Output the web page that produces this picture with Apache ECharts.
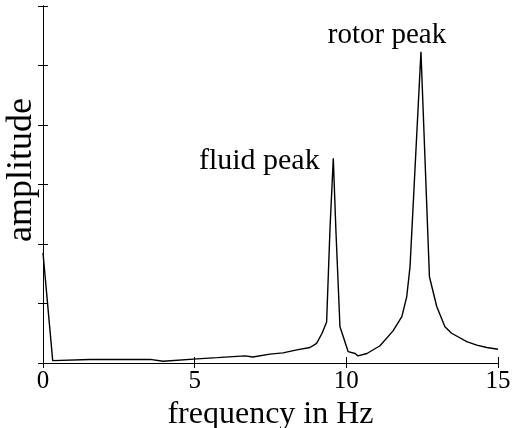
<!DOCTYPE html>
<html>
<head>
<meta charset="utf-8">
<script src="https://cdn.jsdelivr.net/npm/echarts@6/dist/echarts.min.js"></script>
<style>html,body{margin:0;padding:0;background:#fff}#c{width:515px;height:428px}</style>
</head>
<body>
<div id="c"></div>
<script>
const freq = [0, 0.32, 1.55, 3.53, 3.96, 5.08, 5.74, 6.66, 6.92, 7.48, 7.91, 8.37, 8.80, 9.02, 9.20, 9.35, 9.46, 9.57, 9.66, 9.79, 9.90, 10.06, 10.29, 10.38, 10.68, 11.11, 11.54, 11.83, 11.99, 12.10, 12.46, 12.74, 12.98, 13.25, 13.47, 13.97, 14.30, 14.63, 15.0];
const amplitude = [1.85, 0.04, 0.06, 0.06, 0.03, 0.07, 0.09, 0.12, 0.10, 0.15, 0.17, 0.22, 0.26, 0.33, 0.50, 0.69, 2.24, 3.44, 2.18, 0.61, 0.44, 0.19, 0.16, 0.12, 0.16, 0.29, 0.54, 0.78, 1.11, 1.62, 5.23, 1.45, 0.95, 0.61, 0.50, 0.36, 0.30, 0.26, 0.23];
const xTicks = [0, 5, 10, 15];
const peakNames = ['fluid peak', 'rotor peak'];
const peakFreq = [9.57, 12.46];
const peakAmp = [3.44, 5.23];

const font = 'Liberation Serif, Times New Roman, serif';
const chart = echarts.init(document.getElementById('c'));
const axisLine = {show: true, lineStyle: {color: '#000', width: 1}};
chart.setOption({
  animation: false,
  grid: {left: 43, right: 17, top: 6, bottom: 65, outerBoundsMode: 'none', containLabel: false},
  xAxis: [{
    type: 'value', min: xTicks[0], max: xTicks[xTicks.length - 1], interval: 5,
    axisLine: axisLine,
    axisTick: {show: true, inside: true, length: 6, lineStyle: {color: '#000'}},
    axisLabel: {color: '#000', fontFamily: font, fontSize: 25, margin: 6},
    splitLine: {show: false},
    name: 'frequency in Hz', nameLocation: 'middle', nameGap: 28,
    nameTextStyle: {color: '#000', fontFamily: font, fontSize: 32}
  }, {
    type: 'value', position: 'top', min: xTicks[0], max: xTicks[xTicks.length - 1], interval: 5,
    axisLine: axisLine,
    axisTick: {show: true, inside: true, length: 5, lineStyle: {color: '#000'}},
    axisLabel: {show: false}, splitLine: {show: false}
  }],
  yAxis: [{
    type: 'value', min: 0, max: 6, interval: 1,
    axisLine: axisLine,
    axisTick: {show: true, inside: true, length: 5, lineStyle: {color: '#000'}},
    axisLabel: {show: false}, splitLine: {show: false},
    name: 'amplitude', nameLocation: 'middle', nameGap: 3,
    nameTextStyle: {color: '#000', fontFamily: font, fontSize: 36, padding: [0, 0, 0, 29]}
  }, {
    type: 'value', position: 'right', min: 0, max: 6, interval: 1,
    axisLine: axisLine,
    axisTick: {show: true, inside: true, length: 5, lineStyle: {color: '#000'}},
    axisLabel: {show: false}, splitLine: {show: false}
  }],
  series: [{
    type: 'line',
    data: freq.map((f, i) => [f, amplitude[i]]),
    showSymbol: false, symbol: 'none',
    lineStyle: {color: '#000', width: 1.4},
    markPoint: {
      symbol: 'circle', symbolSize: 0,
      label: {show: true, color: '#000', fontFamily: font, fontSize: 29, formatter: p => p.name},
      data: [
        {name: peakNames[0], coord: [peakFreq[0], peakAmp[0]], label: {offset: [-74, 3], fontSize: 30}},
        {name: peakNames[1], coord: [peakFreq[1], peakAmp[1]], label: {offset: [-34, -16]}}
      ]
    }
  }]
});
</script>
</body>
</html>
